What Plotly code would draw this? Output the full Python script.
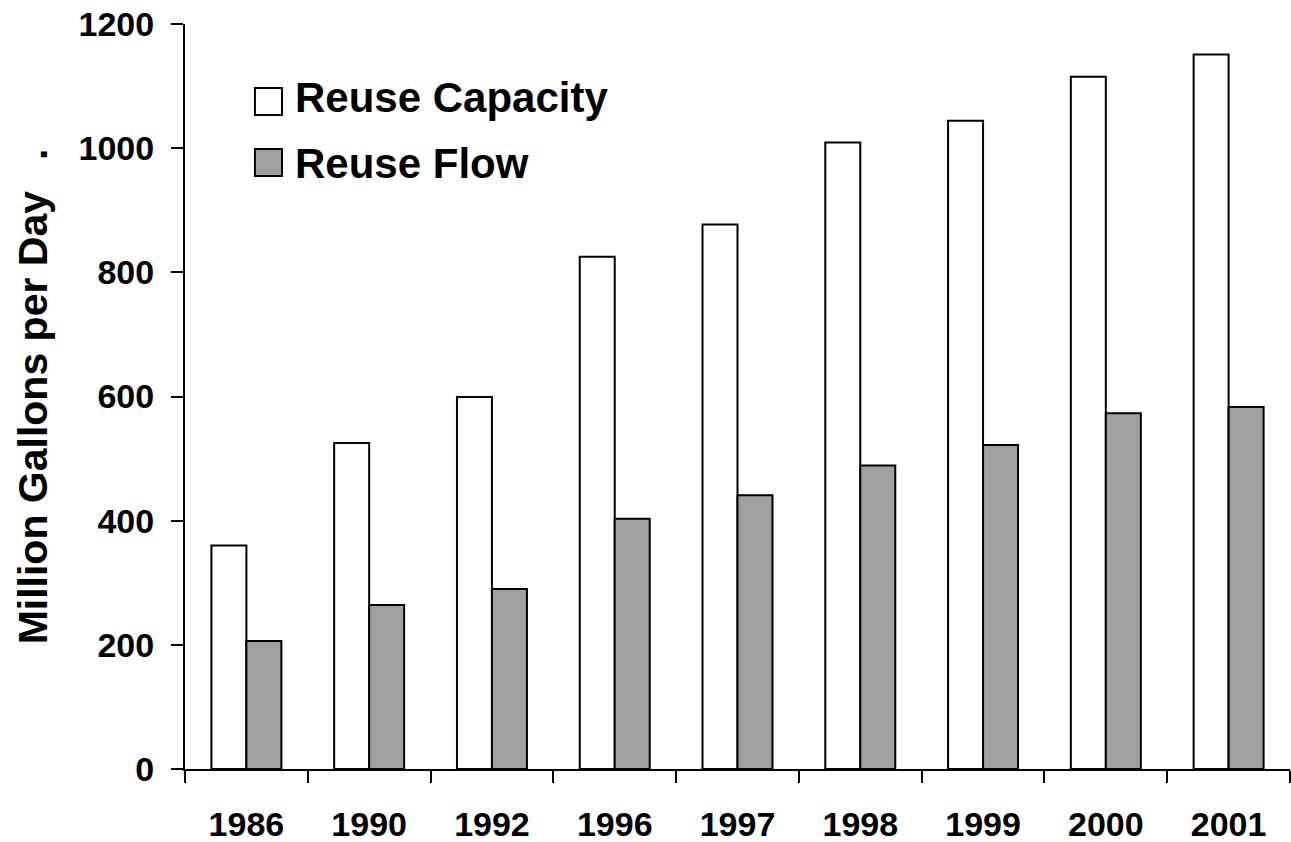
import plotly.graph_objects as go

years = ["1986", "1990", "1992", "1996", "1997", "1998", "1999", "2000", "2001"]
capacity = [360, 525, 599, 825, 877, 1009, 1044, 1115, 1151]
flow = [206, 264, 290, 403, 441, 489, 522, 573, 583]
series_names = ["Reuse Capacity", "Reuse Flow"]
y_ticks = [0, 200, 400, 600, 800, 1000, 1200]

FONT = "Arial, 'Liberation Sans', sans-serif"
fills = ["#ffffff", "#a0a0a0"]

fig = go.Figure()
for name, vals, col in zip(series_names, [capacity, flow], fills):
    fig.add_trace(go.Bar(
        x=years, y=vals, name=name,
        marker=dict(color=col, line=dict(color="black", width=2)),
        showlegend=False,
    ))

# custom legend (large square swatches like the original)
legend_boxes = [(0.9141, 0.8779), (0.8322, 0.7960)]
legend_text_y = [0.9007, 0.8134]
for name, col, (yt, yb), ty in zip(series_names, fills, legend_boxes, legend_text_y):
    fig.add_shape(type="rect", xref="paper", yref="paper",
                  x0=0.0633, x1=0.0878, y0=yb, y1=yt,
                  fillcolor=col, line=dict(color="black", width=2))
    fig.add_annotation(xref="paper", yref="paper", x=0.0977, y=ty,
                       text=f"<b>{name}</b>", showarrow=False,
                       xanchor="left", yanchor="middle",
                       font=dict(family=FONT, size=42, color="black"))

fig.update_layout(
    width=1291, height=842,
    margin=dict(l=185, r=1, t=24, b=73),
    paper_bgcolor="white", plot_bgcolor="white",
    barmode="group", bargap=0.43, bargroupgap=0,
    font=dict(family=FONT, color="black"),
)
fig.update_xaxes(
    type="category", showline=True, linecolor="black", linewidth=2,
    ticks="outside", tickson="boundaries", ticklen=12, tickwidth=2, tickcolor="black",
    tickfont=dict(family=FONT, size=34, color="black"),
    tickprefix="<b>", ticksuffix="</b>", ticklabelstandoff=24,
    showgrid=False, zeroline=False, automargin=False,
)
fig.update_yaxes(
    range=[0, 1200], tickvals=y_ticks, ticktext=[f"<b>{v}</b>" for v in y_ticks],
    showline=True, linecolor="black", linewidth=2,
    ticks="outside", ticklen=12, tickwidth=2, tickcolor="black",
    tickfont=dict(family=FONT, size=34, color="black"), ticklabelstandoff=10,
    ticklabeloverflow="allow",
    showgrid=False, zeroline=False, automargin=False,
    title=dict(text="<b>Million Gallons per Day\u00a0\u00a0\u2009.</b>",
               font=dict(family=FONT, size=41, color="black"), standoff=18),
)

fig.write_html("out.html", config={"displayModeBar": False},
               post_script="document.body.style.margin='0';")
